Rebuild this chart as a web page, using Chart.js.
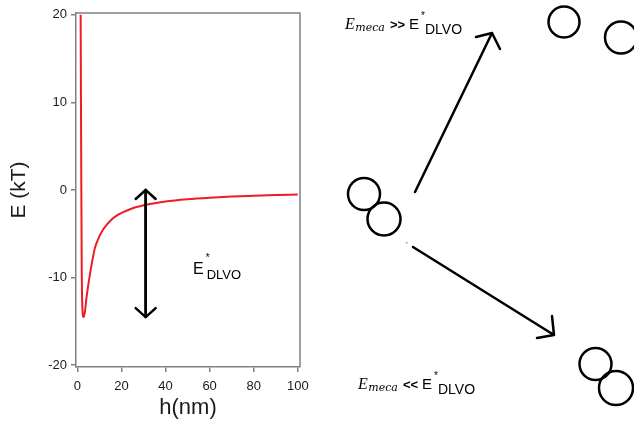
<!DOCTYPE html>
<html>
<head>
<meta charset="utf-8">
<script src="https://cdn.jsdelivr.net/npm/chart.js@4.4.0/dist/chart.umd.min.js"></script>
<style>
  body { margin: 0; background: #fff; }
  #wrap { width: 634px; height: 424px; }
</style>
</head>
<body>
<div id="wrap"><canvas id="myChart" width="634" height="424"></canvas></div>
<script>
// h (nm) and E (kT)
const hValues = [1.5, 1.8, 2.0, 2.1, 2.4, 2.7, 3.0, 3.5, 4.2, 5, 6, 7, 8, 10, 12, 15, 18, 22, 26, 30, 35, 40, 50, 60, 70, 80, 90, 100];
const energyValues = [20, 1, -9, -11.5, -14, -14.5, -14.4, -13.8, -12.2, -10.8, -9.2, -7.8, -6.6, -5.3, -4.4, -3.5, -2.9, -2.4, -2.0, -1.75, -1.5, -1.3, -1.05, -0.88, -0.75, -0.66, -0.58, -0.52];
const xTickValues = [0, 20, 40, 60, 80, 100];
const yTickValues = [-20, -10, 0, 10, 20];

const points = [];
hValues.forEach((h, i) => {
    points.push({x: h, y: energyValues[i]});
});

const axisGray = '#808080';
const sans = '"Liberation Sans", Arial, sans-serif';

// draws a row of text pieces one after the other
const drawRun = (ctx, x, y, parts) => {
    parts.forEach(p => {
        ctx.font = p.font;
        x += p.dx || 0;
        ctx.fillText(p.text, x, y + (p.dy || 0));
        x += ctx.measureText(p.text).width;
    });
};

const compareLabel = (sign) => [
    {text: 'E', font: 'italic 16px "Liberation Serif"'},
    {text: 'meca', font: 'italic 11px "DejaVu Serif"', dx: 0.5, dy: 2},
    {text: sign, font: 'bold 13px ' + sans, dx: 5},
    {text: 'E', font: '15px ' + sans, dx: 4},
    {text: '*', font: '10px ' + sans, dx: 2, dy: -10},
    {text: 'DLVO', font: '14px ' + sans, dx: 0, dy: 5}
];

const arrow = (ctx, x1, y1, x2, y2, arms) => {
    ctx.beginPath();
    ctx.moveTo(x1, y1);
    ctx.lineTo(x2, y2);
    arms.forEach(a => {
        ctx.moveTo(x2, y2);
        ctx.lineTo(a[0], a[1]);
    });
    ctx.stroke();
};

const circle = (ctx, cx, cy, r) => {
    ctx.beginPath();
    ctx.arc(cx, cy, r, 0, Math.PI * 2);
    ctx.stroke();
};

const annotations = {
    id: 'annotations',
    afterDraw(chart) {
        const ctx = chart.ctx;
        const {left, top, right, bottom} = chart.chartArea;
        const xs = chart.scales.x;
        const ys = chart.scales.y;
        ctx.save();

        // top and right side of the frame
        ctx.strokeStyle = axisGray;
        ctx.lineWidth = 1.5;
        ctx.beginPath();
        ctx.moveTo(left, top);
        ctx.lineTo(right, top);
        ctx.lineTo(right, bottom);
        ctx.stroke();

        // double arrow = depth of the well
        ctx.strokeStyle = '#000';
        ctx.lineWidth = 2.5;
        ctx.lineCap = 'round';
        const ax = xs.getPixelForValue(31);
        const aTop = ys.getPixelForValue(0);
        const aBot = ys.getPixelForValue(Math.min(...energyValues));
        arrow(ctx, ax, aBot, ax, aTop, [[ax - 10, aTop + 9], [ax + 10, aTop + 9]]);
        arrow(ctx, ax, aTop, ax, aBot, [[ax - 10, aBot - 9], [ax + 10, aBot - 9]]);

        ctx.fillStyle = '#000';
        ctx.textBaseline = 'alphabetic';
        const ex = xs.getPixelForValue(52.5);
        const ey = ys.getPixelForValue(-9.6);
        drawRun(ctx, ex, ey, [
            {text: 'E', font: '16px ' + sans},
            {text: '*', font: '10px ' + sans, dx: 2, dy: -13},
            {text: 'DLVO', font: '13px ' + sans, dx: -3, dy: 5}
        ]);

        // right side sketch
        drawRun(ctx, 345, 29, compareLabel('>>'));
        drawRun(ctx, 358, 389, compareLabel('<<'));

        arrow(ctx, 415, 192, 492, 33, [[476, 37], [500, 49]]);
        arrow(ctx, 413, 247, 554, 335, [[552, 316], [537, 338]]);

        circle(ctx, 564, 22, 15.5);
        circle(ctx, 621, 37.5, 16);
        circle(ctx, 364, 194, 16);
        circle(ctx, 384, 219, 16.5);
        circle(ctx, 595.5, 364, 16);
        circle(ctx, 616, 388, 17);

        ctx.fillStyle = '#999';
        ctx.fillRect(406, 242, 1.5, 1.5);
        ctx.restore();
    }
};

const data = {
    datasets: [{
        data: points,
        borderColor: '#ee1c24',
        borderWidth: 2,
        pointRadius: 0,
        cubicInterpolationMode: 'monotone',
        fill: false
    }]
};

const config = {
    type: 'line',
    data: data,
    options: {
        responsive: false,
        animation: false,
        layout: {
            padding: {left: 0, right: 334, top: 13, bottom: 0}
        },
        plugins: {
            legend: {display: false},
            tooltip: {enabled: false}
        },
        scales: {
            x: {
                type: 'linear',
                min: -0.6,
                max: 101,
                afterFit: (scale) => { scale.height = 57; },
                afterBuildTicks: (scale) => {
                    scale.ticks = xTickValues.map(v => ({value: v}));
                },
                ticks: {
                    color: '#1a1a1a',
                    font: {family: sans, size: 13},
                    padding: 7,
                    maxRotation: 0
                },
                grid: {
                    drawOnChartArea: false,
                    drawTicks: true,
                    tickLength: 5,
                    color: axisGray,
                    lineWidth: 1.5
                },
                border: {color: axisGray, width: 1.5},
                title: {
                    display: true,
                    text: 'h(nm)',
                    color: '#1a1a1a',
                    font: {family: sans, size: 22},
                    padding: {top: 0, bottom: 3}
                }
            },
            y: {
                min: -20.2,
                max: 20.2,
                afterFit: (scale) => { scale.width = 76; },
                afterBuildTicks: (scale) => {
                    scale.ticks = yTickValues.map(v => ({value: v}));
                },
                ticks: {
                    color: '#1a1a1a',
                    font: {family: sans, size: 13},
                    padding: 4
                },
                grid: {
                    drawOnChartArea: false,
                    drawTicks: true,
                    tickLength: 5,
                    color: axisGray,
                    lineWidth: 1.5
                },
                border: {color: axisGray, width: 1.5},
                title: {
                    display: true,
                    text: 'E (kT)',
                    color: '#1a1a1a',
                    font: {family: sans, size: 21},
                    padding: {top: 7, bottom: 0}
                }
            }
        }
    },
    plugins: [annotations]
};

const myChart = new Chart(document.getElementById('myChart'), config);
</script>
</body>
</html>
